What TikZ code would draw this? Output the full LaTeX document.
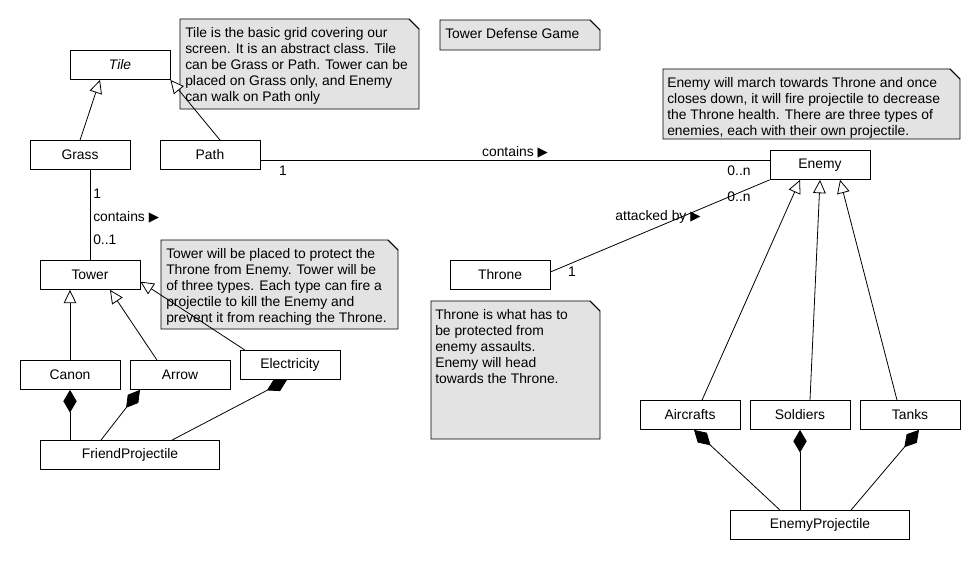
\documentclass[tikz,border=0pt]{standalone}
\usepackage{fontspec}
\setmainfont{Liberation Sans}
\newfontfamily\symfont{DejaVu Sans}
\usetikzlibrary{arrows.meta,calc}
\newcommand{\tri}{{\symfont\fontsize{10pt}{10pt}\selectfont ▶}}
\newcommand{\notebox}[4]{%
  \filldraw[noteshape] (#1,#2) -- ({#3-10},#2) -- (#3,{#2+10}) -- (#3,#4) -- (#1,#4) -- cycle;
  \draw[noteshape,fill=none] ({#3-10},#2) -- (#3,{#2+10});}
\begin{document}
\begin{tikzpicture}[x=0.75pt,y=-0.75pt,
  every node/.style={font=\fontsize{10.4pt}{12pt}\selectfont},
  cls/.style={draw, line width=0.6pt, fill=white, minimum width=75pt, minimum height=21.75pt, inner sep=0pt},
  wide/.style={minimum width=134pt},
  noteshape/.style={draw, line width=0.6pt, fill=gray!22},
  notetext/.style={anchor=north west, inner sep=0pt, align=left},
  lbl/.style={inner sep=0pt},
  conn/.style={line width=0.6pt},
  inh/.style={conn, -{Triangle[length=10pt,width=9.5pt,fill=white]}},
  comp/.style={conn, -{Diamond[length=17pt,width=10pt]}}]
\fill[white] (0,0) rectangle (980,560);
\useasboundingbox (0,0) rectangle (980,560);

% notes
\notebox{180}{19}{419}{109}
\node[notetext] (tilenote) at (185,27) {Tile is the basic grid covering our\\screen. It is an abstract class. Tile\\can be Grass or Path. Tower can be\\placed on Grass only, and Enemy\\can walk on Path only};
\notebox{440}{20}{600}{50}
\node[notetext] (titlenote) at (445,28) {Tower Defense Game};
\notebox{663}{69}{960}{139}
\node[notetext] (enemynote) at (667,77) {Enemy will march towards Throne and once\\closes down, it will fire projectile to decrease\\the Throne health. There are three types of\\enemies, each with their own projectile.};
\notebox{161}{240}{398}{329}
\node[notetext] (towernote) at (166,248) {Tower will be placed to protect the\\Throne from Enemy. Tower will be\\of three types. Each type can fire a\\projectile to kill the Enemy and\\prevent it from reaching the Throne.};
\notebox{431}{301}{600}{439}
\node[notetext] (thronenote) at (435,309) {Throne is what has to\\be protected from\\enemy assaults.\\Enemy will head\\towards the Throne.};

% classes
\node[cls] (Tile) at (120,65) {\itshape Tile};
\node[cls] (Grass) at (80,155) {Grass};
\node[cls] (Path) at (210,155) {Path};
\node[cls] (Tower) at (90,275) {Tower};
\node[cls] (Canon) at (70,375) {Canon};
\node[cls] (Arrow) at (180,375) {Arrow};
\node[cls] (Electricity) at (290,365) {Electricity};
\node[cls,wide] (FriendProjectile) at (130,455) {FriendProjectile};
\node[cls] (Enemy) at (820,165) {Enemy};
\node[cls] (Throne) at (500,275) {Throne};
\node[cls] (Aircrafts) at (690,415) {Aircrafts};
\node[cls] (Soldiers) at (800,415) {Soldiers};
\node[cls] (Tanks) at (910,415) {Tanks};
\node[cls,wide] (EnemyProjectile) at (820,525) {EnemyProjectile};

% inheritance
\draw[inh] (Grass.north) -- ([xshift=-15pt]Tile.south);
\draw[inh] ([xshift=7.5pt]Path.north) -- (Tile.south east);
\draw[inh] (Canon.north) -- (Canon.north |- Tower.south);
\draw[inh] ([xshift=-17.25pt]Arrow.north) -- ([xshift=15pt]Tower.south);
\draw[inh] ([xshift=4pt]Electricity.north west) -- ([yshift=-5pt]Tower.east);
\draw[inh] ([xshift=9pt]Aircrafts.north) -- ([xshift=-15pt]Enemy.south);
\draw[inh] ([xshift=7.5pt]Soldiers.north) -- (Enemy.south);
\draw[inh] ([xshift=-9.75pt]Tanks.north) -- ([xshift=15pt]Enemy.south);

% composition
\draw[comp] (FriendProjectile.north -| Canon.south) -- (Canon.south);
\draw[comp] ([xshift=-21.75pt]FriendProjectile.north) -- ([xshift=-30pt]Arrow.south);
\draw[comp] ([xshift=31.5pt]FriendProjectile.north) -- ([xshift=-2.25pt]Electricity.south);
\draw[comp] ([xshift=-30pt]EnemyProjectile.north) -- ([xshift=3pt]Aircrafts.south);
\draw[comp] (EnemyProjectile.north -| Soldiers.south) -- (Soldiers.south);
\draw[comp] ([xshift=23.25pt]EnemyProjectile.north) -- ([xshift=6.75pt]Tanks.south);

% associations
\draw[conn] ([xshift=7.5pt]Grass.south) -- ([xshift=7.5pt]Grass.south |- Tower.north);
\draw[conn] ([yshift=-3.75pt]Path.east) -- ([yshift=3.75pt]Enemy.west);
\draw[conn] ([yshift=2.25pt]Throne.east) -- (Enemy.south west);

% labels
\node[lbl,anchor=west] (l1) at (93,194) {1};
\node[lbl,anchor=west] (l2) at (93,217) {contains \tri};
\node[lbl,anchor=west] (l3) at (93,240) {0..1};
\node[lbl] (l4) at (515,152) {contains \tri};
\node[lbl] (l5) at (283,171) {1};
\node[lbl] (l6) at (739,171) {0..n};
\node[lbl] (l7) at (739,197) {0..n};
\node[lbl] (l8) at (658,217) {attacked by \tri};
\node[lbl] (l9) at (572,272) {1};
\end{tikzpicture}
\end{document}
